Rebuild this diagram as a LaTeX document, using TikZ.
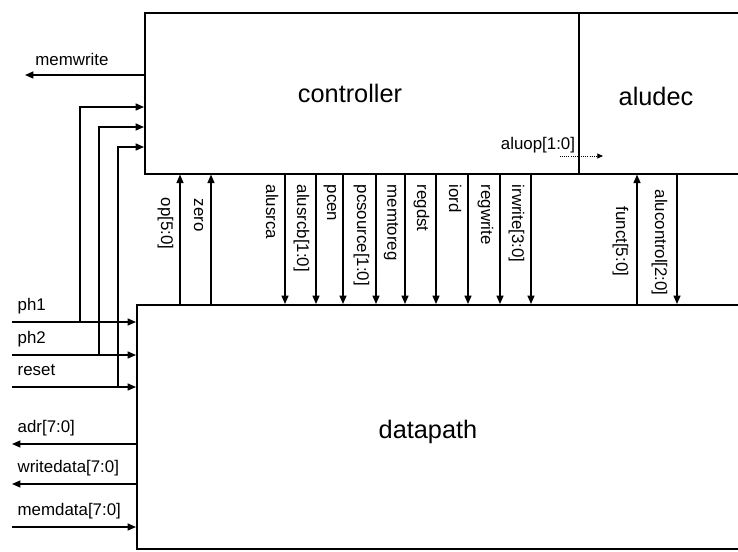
\documentclass[tikz,border=0pt]{standalone}
\usepackage{fontspec}
\setmainfont{Liberation Sans}
\usetikzlibrary{arrows.meta,positioning}

\tikzset{
  block/.style={draw, line width=1.1pt, inner sep=0pt},
  sig/.style={->, line width=0.9pt},
  pinlbl/.style={font=\fontsize{12}{14}\selectfont, inner sep=1pt},
  vpinlbl/.style={pinlbl, rotate=-90, anchor=north west},
  title/.style={font=\fontsize{18}{21}\selectfont},
}

\begin{document}
\begin{tikzpicture}[x=0.025cm, y=-0.025cm, >={Triangle[length=6pt,width=5pt]}]
\clip (0,0) rectangle (738,552);

% Blocks (both run off the right edge)
\node[block, anchor=north west, minimum width=15.5cm, minimum height=4.025cm] (ctl) at (144,12) {};
\node[block, anchor=north west, minimum width=4.6cm, minimum height=4.025cm] (alu) at (578,12) {};
\node[block, anchor=north west, minimum width=15.7cm, minimum height=6.1cm] (dp) at (136,304) {};

% Block names
\node[title] (ctltxt) at (350,93) {controller};
\node[title] (alutxt) at (656,96) {aludec};
\node[title] (dptxt) at (428,432) {datapath};

% memwrite out of the controller
\coordinate (mw) at (25,75);
\draw[sig] (mw -| ctl.west) -- (mw);
\node[pinlbl] (mwtxt) at (72,59) {memwrite};

% Clocks and reset go to both blocks
\foreach \name/\y/\x/\yc in {ph1/322/80/107, ph2/355/99/127, reset/387/118/147} {
    \coordinate (\name) at (12,\y);
    \coordinate (\name-up) at (\x,\y);
    \coordinate (\name-c) at (0,\yc);
    \draw[sig] (\name) -- (\name -| dp.west);
    \draw[sig] (\name-up) |- (\name-c -| ctl.west);
    \node[pinlbl, anchor=base west] (\name-txt) at (16,\y-12) {\name};
}

% Memory interface
\coordinate (adr) at (12,444);
\coordinate (wd) at (12,484);
\coordinate (md) at (12,527);
\draw[sig] (adr -| dp.west) -- (adr);
\draw[sig] (wd -| dp.west) -- (wd);
\draw[sig] (md) -- (md -| dp.west);
\node[pinlbl, anchor=base west] (adrtxt) at (16,432) {adr[7:0]};
\node[pinlbl, anchor=base west] (wdtxt) at (16,472) {writedata[7:0]};
\node[pinlbl, anchor=base west] (mdtxt) at (16,515) {memdata[7:0]};

% Status back to the controller
\coordinate (op) at (180,0);
\coordinate (zero) at (211,0);
\coordinate (funct) at (637,0);
\draw[sig] (op |- dp.north) -- (op |- ctl.south);
\draw[sig] (zero |- dp.north) -- (zero |- ctl.south);
\draw[sig] (funct |- dp.north) -- (funct |- ctl.south);
\node[vpinlbl] (optxt) at (175,196) {op[5:0]};
\node[vpinlbl] (zerotxt) at (205,197) {zero};
\node[vpinlbl] (functtxt) at (630,205) {funct[5:0]};

% Control signals down to the datapath
\foreach \x/\lbl [count=\i] in {285/alusrca, 316/alusrcb[1:0], 343/pcen, 376/pcsource[1:0],
    405/memtoreg, 436/regdst, 468/iord, 500/regwrite, 531/irwrite[3:0]} {
    \coordinate (cs\i) at (\x,0);
    \draw[sig] (cs\i |- ctl.south) -- (cs\i |- dp.north);
    \node[vpinlbl] (cs\i-txt) at (\x-5,183) {\lbl};
}

% alucontrol from aludec
\coordinate (alc) at (677,0);
\draw[sig] (alc |- ctl.south) -- (alc |- dp.north);
\node[vpinlbl] (alctxt) at (669,188) {alucontrol[2:0]};

% aluop inside the controller
\node[pinlbl] (aluoptxt) at (538,145) {aluop[1:0]};
\coordinate (aluop-s) at (560,156);
\coordinate (aluop-e) at (603,156);
\draw[->, densely dotted, line width=0.5pt, >={Triangle[length=4pt,width=3.5pt]}] (aluop-s) -- (aluop-e);
\end{tikzpicture}
\end{document}
